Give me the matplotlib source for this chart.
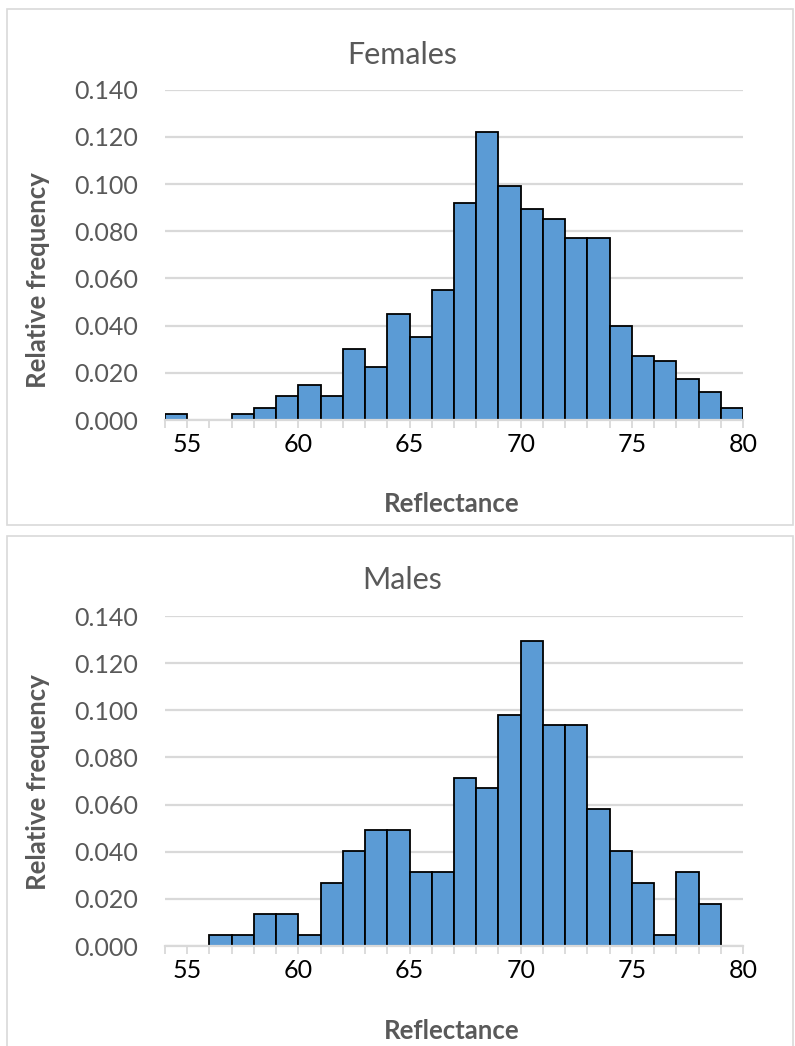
"""Relative frequency histograms of reflectance for females and males."""

import numpy as np
import matplotlib.pyplot as plt
from matplotlib.patches import Rectangle

# bin edges: 1-unit bins from 54 to 80
bin_left = np.arange(54, 80)
females_freq = [0.0025, 0.0, 0.0, 0.0025, 0.005, 0.010, 0.015, 0.010, 0.030, 0.0225,
                0.045, 0.035, 0.055, 0.092, 0.122, 0.099, 0.0895, 0.085, 0.077, 0.077,
                0.040, 0.027, 0.025, 0.0175, 0.012, 0.005]
males_freq = [0.0, 0.0, 0.0045, 0.0045, 0.0134, 0.0134, 0.0045, 0.0268, 0.0402, 0.0491,
              0.0491, 0.0313, 0.0313, 0.0714, 0.067, 0.0982, 0.1295, 0.0938, 0.0938, 0.058,
              0.0402, 0.0268, 0.0045, 0.0313, 0.0179, 0.0]
titles = ["Females", "Males"]
y_ticks = np.arange(0, 0.141, 0.02)

W, H = 795, 1046
plt.rcParams["font.family"] = ["Lato", "DejaVu Sans"]
fig = plt.figure(figsize=(W / 100, H / 100), dpi=100)

GRAY = "#595959"
GRID = "#d9d9d9"


def px(x, y):
    """Pixel (from top-left) to figure fraction."""
    return x / W, 1 - y / H


def draw_panel(freq, title, top, base, box, title_y, xlab_y, ylab_y):
    x0, y0 = px(165, base)
    ax = fig.add_axes([x0, y0, (743 - 165) / W, (base - top) / H])
    freq = np.asarray(freq)
    keep = freq > 0
    ax.bar(bin_left[keep], freq[keep], width=1, align="edge",
           color="#5B9BD5", edgecolor="black", linewidth=1.3, zorder=3)
    ax.set_xlim(54, 80)
    ax.set_ylim(0, 0.14)
    ax.set_yticks(y_ticks)
    ax.set_yticklabels([f"{v:.3f}" for v in y_ticks])
    ticks = np.arange(54, 81)
    ax.set_xticks(ticks)
    ax.set_xticklabels([str(t) if t % 5 == 0 else "" for t in ticks])
    ax.grid(axis="y", color=GRID, linewidth=1.6, zorder=0)
    for s in ["top", "right", "left"]:
        ax.spines[s].set_visible(False)
    ax.spines["bottom"].set_color(GRID)
    ax.spines["bottom"].set_linewidth(1.6)
    ax.spines["bottom"].set_zorder(4)
    ax.tick_params(axis="y", length=0, pad=19, labelsize=18, labelcolor=GRAY)
    ax.tick_params(axis="x", length=6, width=1.3, color=GRID, pad=3,
                   labelsize=18, labelcolor="black")

    # panel border
    bx, by = px(box[0], box[3])
    fig.add_artist(Rectangle((bx, by), (box[2] - box[0]) / W, (box[3] - box[1]) / H,
                             transform=fig.transFigure, fill=False,
                             edgecolor=GRID, linewidth=1.2))

    fig.text(*px(402, title_y), title, fontsize=22, color=GRAY, ha="center", va="center")
    fig.text(*px(452, xlab_y), "Reflectance", fontsize=18.5, fontweight="bold",
             color=GRAY, ha="center", va="center")
    fig.text(*px(38, ylab_y), "Relative frequency", fontsize=18.5, fontweight="bold",
             color=GRAY, ha="center", va="center", rotation=90)


draw_panel(females_freq, titles[0], 89.6, 420, (7, 9, 793, 525), 55, 504, 280)
draw_panel(males_freq, titles[1], 616, 946, (7, 536, 793, 1050), 580, 1031, 782)

fig.savefig("out.png", dpi=100)
